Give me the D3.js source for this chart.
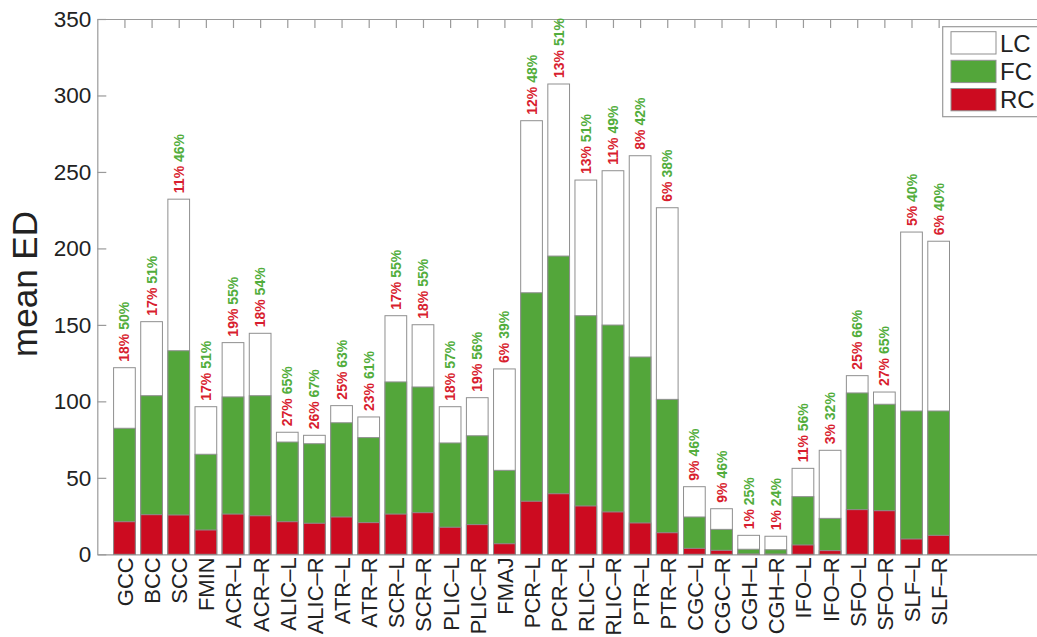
<!DOCTYPE html>
<html>
<head>
<meta charset="utf-8">
<script src="https://cdn.jsdelivr.net/npm/d3@7"></script>
<style>
  html, body { margin: 0; padding: 0; background: #fff; overflow: hidden; }
  svg { display: block; font-family: "Liberation Sans", Arial, Helvetica, sans-serif; }
</style>
</head>
<body>
<svg id="chart" width="1037" height="637"></svg>
<script>
// ---- data ----
const categories = ["GCC","BCC","SCC","FMIN","ACR–L","ACR–R","ALIC–L","ALIC–R","ATR–L","ATR–R",
  "SCR–L","SCR–R","PLIC–L","PLIC–R","FMAJ","PCR–L","PCR–R","RLIC–L","RLIC–R","PTR–L","PTR–R",
  "CGC–L","CGC–R","CGH–L","CGH–R","IFO–L","IFO–R","SFO–L","SFO–R","SLF–L","SLF–R"];
// bar heights (nested: LC ⊇ FC ⊇ RC)
const LC = [122.0,152.1,232.2,96.5,138.4,144.5,79.8,77.8,97.2,89.8,
  156.0,150.1,96.5,102.4,121.2,283.5,307.5,244.7,250.8,260.6,226.6,
  44.2,29.8,12.4,11.8,56.2,68.0,116.8,106.1,210.7,204.7];
const FC = [82.4,103.7,133.1,65.4,102.9,103.7,73.4,72.3,86.0,76.3,
  112.7,109.4,72.8,77.5,54.9,171.0,195.0,156.0,149.9,129.0,101.3,
  24.4,16.3,3.3,3.0,37.7,23.5,105.5,98.1,93.7,93.7];
const RC = [21.3,25.9,25.7,15.9,26.3,25.2,21.3,20.3,24.4,20.7,
  26.3,27.2,17.7,19.4,6.9,34.7,39.6,31.6,27.7,20.5,14.1,
  3.9,2.6,0.2,0.1,6.1,2.4,29.2,28.5,10.0,12.4];
// percentage labels above bars
const pctRC = ["18%","17%","11%","17%","19%","18%","27%","26%","25%","23%",
  "17%","18%","18%","19%","6%","12%","13%","13%","11%","8%","6%",
  "9%","9%","1%","1%","11%","3%","25%","27%","5%","6%"];
const pctFC = ["50%","51%","46%","51%","55%","54%","65%","67%","63%","61%",
  "55%","55%","57%","56%","39%","48%","51%","51%","49%","42%","38%",
  "46%","46%","25%","24%","56%","32%","66%","65%","40%","40%"];
const yTicks = [0,50,100,150,200,250,300,350];
const legendLabels = ["LC","FC","RC"];

// ---- styles ----
const colLC = "#ffffff", colFC = "#53a63a", colRC = "#cc0b20";
const txtRed = "#d81e2f", txtGreen = "#52ad3c";
const edge = "#8f8f8f", axisCol = "#9a9a9a", textCol = "#222";

const svg = d3.select("#chart");
const mLeft = 97.3, mTop = 19, mBottom = 554.3;
const x = d3.scaleLinear().domain([0, 35]).range([mLeft, 1047.2]);
const y = d3.scaleLinear().domain([0, 350]).range([mBottom, mTop]);
const idx = d3.range(1, categories.length + 1);
const bw = x(0.8) - x(0);

// axes (drawn beneath bars)
const gL = svg.append("g").attr("transform", `translate(${mLeft},0)`)
  .call(d3.axisLeft(y).tickValues(yTicks).tickSize(-9).tickSizeOuter(0).tickPadding(6));
gL.selectAll("text").style("font-size", "22.5px").attr("fill", textCol);
const gT = svg.append("g").attr("transform", `translate(0,${mTop})`)
  .call(d3.axisTop(x).tickValues(idx).tickSize(-9).tickSizeOuter(0).tickFormat(""));
const gB = svg.append("g").attr("transform", `translate(0,${mBottom})`)
  .call(d3.axisBottom(x).tickValues(idx).tickSize(0).tickSizeOuter(0)
    .tickFormat(i => categories[i - 1]));
gB.selectAll("text")
  .style("font-size", "22px").attr("fill", textCol)
  .attr("text-anchor", "end")
  .attr("transform", "rotate(-90)")
  .attr("x", -3).attr("y", 0).attr("dy", "0.36em");
[gL, gT, gB].forEach(g => {
  g.selectAll("path.domain").attr("stroke", axisCol).attr("stroke-width", 1.2);
  g.selectAll(".tick line").attr("stroke", axisCol).attr("stroke-width", 1.2);
});

// bars
const bars = svg.append("g");
const drawSeries = (vals, fill) => bars.append("g").selectAll("rect")
  .data(vals).join("rect")
  .attr("x", (d, i) => x(i + 1) - bw / 2)
  .attr("width", bw)
  .attr("y", d => y(d))
  .attr("height", d => y(0) - y(d))
  .attr("fill", fill).attr("stroke", edge).attr("stroke-width", 1);
drawSeries(LC, colLC);
drawSeries(FC, colFC);
drawSeries(RC, colRC);

// percentage labels
const lab = svg.append("g").selectAll("text").data(LC).join("text")
  .attr("transform", (d, i) => `translate(${x(i + 1)},${y(d) - 6}) rotate(-90)`)
  .attr("dy", "0.36em")
  .style("font-size", "14px").style("font-weight", "bold");
lab.append("tspan").attr("fill", txtRed).text((d, i) => pctRC[i]);
lab.append("tspan").attr("fill", txtGreen).text((d, i) => " " + pctFC[i]);

// y axis title
svg.append("text")
  .attr("transform", "translate(37,284) rotate(-90)")
  .attr("text-anchor", "middle")
  .style("font-size", "35px").attr("fill", textCol)
  .text("mean ED");

// legend
const lg = svg.append("g");
lg.append("rect").attr("x", 942.7).attr("y", 26.7).attr("width", 140).attr("height", 90)
  .attr("fill", "#fff").attr("stroke", axisCol).attr("stroke-width", 1.2);
const swCols = [colLC, colFC, colRC];
const swY = [31.7, 60.3, 88.5];
legendLabels.forEach((t, i) => {
  lg.append("rect").attr("x", 951).attr("y", swY[i]).attr("width", 45).attr("height", 22.3)
    .attr("fill", swCols[i]).attr("stroke", edge).attr("stroke-width", 1);
  lg.append("text").attr("x", 1000).attr("y", swY[i] + 11.2).attr("dy", "0.36em")
    .style("font-size", "24px").attr("fill", textCol).text(t);
});
</script>
</body>
</html>
